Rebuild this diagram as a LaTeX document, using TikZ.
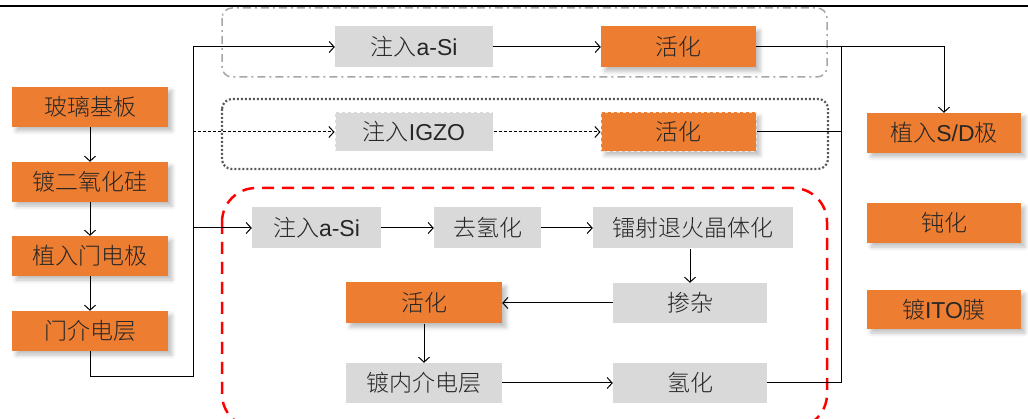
\documentclass[tikz,border=0pt]{standalone}
\usepackage{fontspec}
\setmainfont{Liberation Sans}
\newfontfamily\cjk{Noto Sans CJK SC}[UprightFont={* Light}]
\usetikzlibrary{arrows.meta,shadows.blur}
\definecolor{org}{HTML}{ED7D31}
\definecolor{lgr}{HTML}{D9D9D9}
\definecolor{dgr}{HTML}{595959}
\definecolor{mgr}{HTML}{A6A6A6}
\newcommand{\zh}[1]{{\cjk #1}}
\tikzset{
  >={Straight Barb[length=5pt,width=11pt]},
  every node/.style={font=\fontsize{23pt}{26pt}\selectfont, text=black!85, inner sep=0pt},
  obox/.style={fill=org, minimum height=40pt,
    blur shadow={shadow xshift=4pt, shadow yshift=-4pt, shadow blur radius=4pt, shadow opacity=25}},
  gbox/.style={fill=lgr, minimum height=40pt},
  conn/.style={line width=1pt, black},
}
\begin{document}
\begin{tikzpicture}[x=1pt,y=1pt]
\useasboundingbox (0,0) rectangle (1028,-419);
% top rule
\draw[line width=2pt] (0,-6) -- (1028,-6);
% group frames
\draw[mgr, line width=1.5pt, dash pattern=on 8pt off 4pt on 2pt off 4pt, rounded corners=10pt] (222,-8) rectangle (827,-77);
\draw[dgr, line width=2.2pt, dash pattern=on 2pt off 2pt, rounded corners=10pt] (222,-99) rectangle (828,-169);
\draw[red, line width=2.5pt, dash pattern=on 12pt off 8pt, rounded corners=34pt] (222,-188) rectangle (827,-428);
% left column
\node[obox, minimum width=156pt] (a1) at (90,-107) {\zh{玻璃基板}};
\node[obox, minimum width=156pt] (a2) at (90,-182) {\zh{镀二氧化硅}};
\node[obox, minimum width=156pt] (a3) at (90,-256) {\zh{植入门电极}};
\node[obox, minimum width=156pt] (a4) at (90,-331) {\zh{门介电层}};
% top group
\node[gbox, minimum width=158pt, minimum height=41pt] (t1) at (414,-47) {\zh{注入}a-Si};
\node[obox, minimum width=155pt, minimum height=41pt] (t2) at (678.5,-47) {\zh{活化}};
% middle group
\node[gbox, minimum width=158pt, minimum height=39pt, draw=white, dashed, line width=1pt] (m1) at (414,-132) {\zh{注入}IGZO};
\node[obox, minimum width=155pt, minimum height=39pt, draw=white!80!org, dashed, line width=1pt] (m2) at (678.5,-132) {\zh{活化}};
% bottom group
\node[gbox, minimum width=129pt, minimum height=41pt] (b1) at (316.5,-228) {\zh{注入}a-Si};
\node[gbox, minimum width=107pt, minimum height=41pt] (b2) at (487.5,-228) {\zh{去氢化}};
\node[gbox, minimum width=200pt, minimum height=41pt] (b3) at (693,-228) {\zh{镭射退火晶体化}};
\node[gbox, minimum width=154pt] (b4) at (690,-303) {\zh{掺杂}};
\node[obox, minimum width=156pt, minimum height=41pt] (b5) at (424,-303) {\zh{活化}};
\node[gbox, minimum width=156pt] (b6) at (424,-383) {\zh{镀内介电层}};
\node[gbox, minimum width=154pt] (b7) at (690,-383) {\zh{氢化}};
% right column
\node[obox, minimum width=154pt] (r1) at (944,-133) {\zh{植入}S/D\zh{极}};
\node[obox, minimum width=154pt] (r2) at (944,-223) {\zh{钝化}};
\node[obox, minimum width=154pt, minimum height=39pt] (r3) at (944,-309.5) {\zh{镀}ITO\zh{膜}};
% junction coordinates
\coordinate (jl) at (193,-377);
\coordinate (jt) at (193,-47);
\coordinate (jm) at (193,-132);
\coordinate (jb) at (193,-228);
\coordinate (cr) at (841,-47);
% connectors
\draw[conn,->] (a1) -- (a2);
\draw[conn,->] (a2) -- (a3);
\draw[conn,->] (a3) -- (a4);
\draw[conn,->] (a4.south) |- (jl) -- (jt) -- (t1.west);
\draw[conn,->] (jb) -- (b1.west);
\draw[conn,->,dash pattern=on 3pt off 2pt] (jm) -- (m1.west);
\draw[conn,->,dash pattern=on 3pt off 2pt] (m1.east) -- (m2.west);
\draw[conn,->] (t1) -- (t2);
\draw[conn,->] (t2.east) -| (r1.north);
\draw[conn] (m2.east) -- (m2.east -| cr);
\draw[conn] (b7.east) -| (cr);
\draw[conn,->] (b1) -- (b2);
\draw[conn,->] (b2) -- (b3);
\draw[conn,->] (b3.south -| b4.north) -- (b4.north);
\draw[conn,->] (b4) -- (b5);
\draw[conn,->] (b5) -- (b6);
\draw[conn,->] (b6) -- (b7);
\end{tikzpicture}
\end{document}
